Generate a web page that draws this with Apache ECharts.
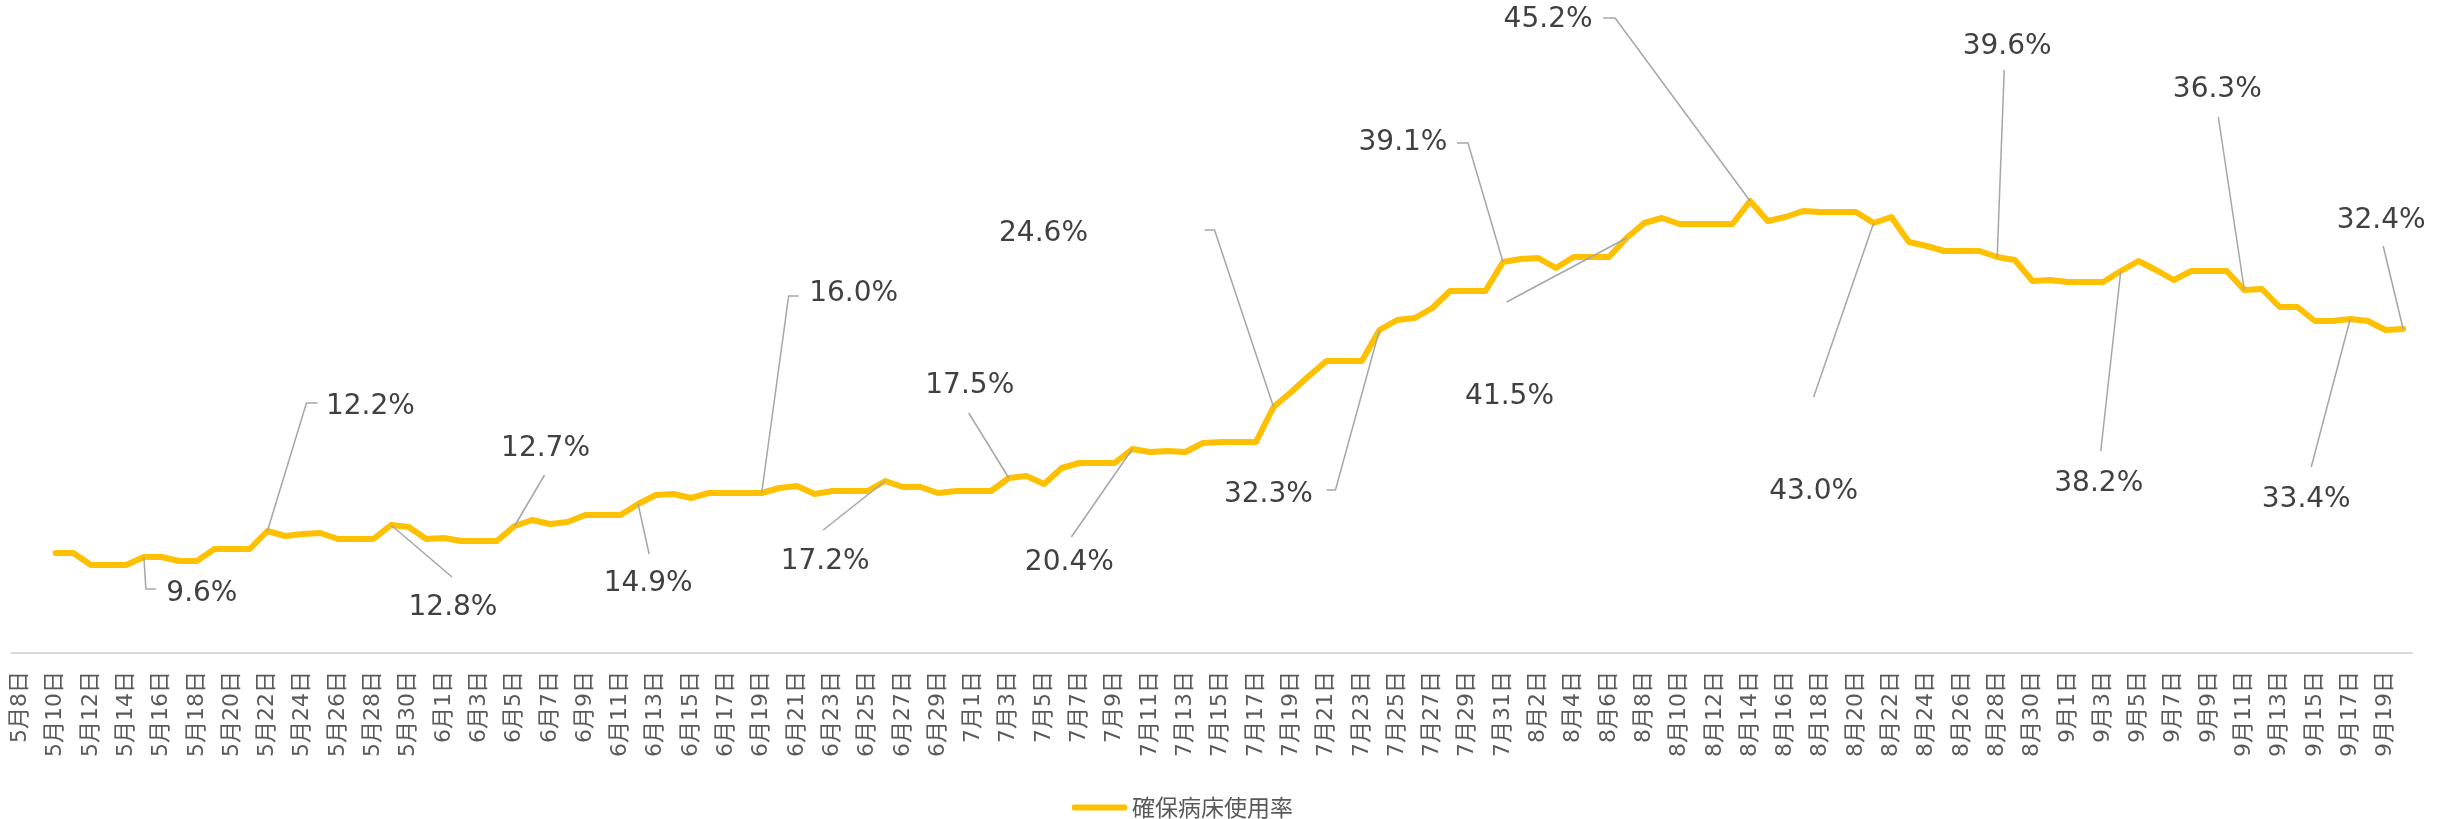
<!DOCTYPE html>
<html>
<head>
<meta charset="utf-8">
<script src="https://cdn.jsdelivr.net/npm/echarts@6/dist/echarts.min.js"></script>
<style>
html,body{margin:0;padding:0;background:#fff;}
#chart{width:2440px;height:819px;}
</style>
</head>
<body>
<div id="chart"></div>
<script>
// ---- data ----
const categories = [
 '5月8日','5月9日','5月10日','5月11日','5月12日','5月13日','5月14日','5月15日','5月16日','5月17日','5月18日','5月19日','5月20日','5月21日','5月22日','5月23日','5月24日','5月25日','5月26日','5月27日','5月28日','5月29日','5月30日','5月31日',
 '6月1日','6月2日','6月3日','6月4日','6月5日','6月6日','6月7日','6月8日','6月9日','6月10日','6月11日','6月12日','6月13日','6月14日','6月15日','6月16日','6月17日','6月18日','6月19日','6月20日','6月21日','6月22日','6月23日','6月24日','6月25日','6月26日','6月27日','6月28日','6月29日','6月30日',
 '7月1日','7月2日','7月3日','7月4日','7月5日','7月6日','7月7日','7月8日','7月9日','7月10日','7月11日','7月12日','7月13日','7月14日','7月15日','7月16日','7月17日','7月18日','7月19日','7月20日','7月21日','7月22日','7月23日','7月24日','7月25日','7月26日','7月27日','7月28日','7月29日','7月30日','7月31日',
 '8月1日','8月2日','8月3日','8月4日','8月5日','8月6日','8月7日','8月8日','8月9日','8月10日','8月11日','8月12日','8月13日','8月14日','8月15日','8月16日','8月17日','8月18日','8月19日','8月20日','8月21日','8月22日','8月23日','8月24日','8月25日','8月26日','8月27日','8月28日','8月29日','8月30日','8月31日',
 '9月1日','9月2日','9月3日','9月4日','9月5日','9月6日','9月7日','9月8日','9月9日','9月10日','9月11日','9月12日','9月13日','9月14日','9月15日','9月16日','9月17日','9月18日','9月19日','9月20日'
];
const seriesName = '確保病床使用率';
// 5/8, 5/9: no data
const mayValues = [null, null, 10.0, 10.0, 8.8, 8.8, 8.8, 9.6, 9.6, 9.2, 9.2, 10.4, 10.4, 10.4, 12.2, 11.7, 11.9, 12.0, 11.4, 11.4, 11.4, 12.8, 12.6, 11.4];
const junValues = [11.5, 11.2, 11.2, 11.2, 12.7, 13.3, 12.9, 13.1, 13.8, 13.8, 13.8, 14.9, 15.8, 15.9, 15.5, 16.0, 16.0, 16.0, 16.0, 16.5, 16.7, 15.9, 16.2, 16.2, 16.2, 17.2, 16.6, 16.6, 16.0, 16.2];
const julValues = [16.2, 16.2, 17.5, 17.7, 16.9, 18.5, 19.0, 19.0, 19.0, 20.4, 20.1, 20.2, 20.1, 21.0, 21.1, 21.1, 21.1, 24.6, 26.1, 27.7, 29.2, 29.2, 29.2, 32.3, 33.3, 33.5, 34.5, 36.2, 36.2, 36.2, 39.1];
const augValues = [39.4, 39.5, 38.5, 39.6, 39.6, 39.6, 41.5, 43.0, 43.5, 42.9, 42.9, 42.9, 42.9, 45.2, 43.2, 43.6, 44.2, 44.1, 44.1, 44.1, 43.0, 43.6, 41.1, 40.7, 40.2, 40.2, 40.2, 39.6, 39.3, 37.2, 37.3];
const sepValues = [37.1, 37.1, 37.1, 38.2, 39.2, 38.3, 37.3, 38.2, 38.2, 38.2, 36.3, 36.4, 34.6, 34.6, 33.2, 33.2, 33.4, 33.2, 32.3, 32.4];
const values = [].concat(mayValues, junValues, julValues, augValues, sepValues);

// dates that carry a data label
const labelDates = ['5月15日','5月22日','5月29日','6月5日','6月12日','6月19日','6月26日','7月3日','7月10日','7月18日','7月24日','7月31日','8月7日','8月14日','8月21日','8月28日','9月4日','9月11日','9月17日','9月20日'];

// ---- label placement (pixel offsets of label text centre from its point) ----
const labelOffsets = {
 '5月15日':[58,37], '5月22日':[103,-124], '5月29日':[62,83], '6月5日':[31,-77],
 '6月12日':[10,80], '6月19日':[92,-199], '6月26日':[-60,81], '7月3日':[-39,-92],
 '7月10日':[-63,114], '7月18日':[-230,-173], '7月24日':[-111,165], '7月31日':[-100,-119],
 '8月7日':[-117,159], '8月14日':[-202,-181], '8月21日':[-60,269], '8月28日':[10,-210],
 '9月4日':[-22,213], '9月11日':[-27,-200], '9月17日':[-44,181], '9月20日':[-22,-108]
};
// ---- leader line shapes (pixel offsets of bends from the labelled point) ----
const leaderShapes = {
 '5月15日':[[0,0],[2,32],[12,32]], '5月22日':[[0,0],[39,-128],[50,-128]],
 '5月29日':[[0,0],[61,52]], '6月5日':[[0,0],[30,-51]], '6月12日':[[0,0],[11,50]],
 '6月19日':[[0,0],[27,-197],[37,-197]], '6月26日':[[0,0],[-62,49]],
 '7月3日':[[0,0],[-40,-65]], '7月10日':[[0,0],[-61,88]],
 '7月18日':[[0,0],[-59,-177],[-69,-177]], '7月24日':[[0,0],[-44,160],[-53,160]],
 '7月31日':[[0,0],[-35,-119],[-46,-119]], '8月7日':[[0,0],[-120,64]],
 '8月14日':[[0,0],[-135,-183],[-147,-183]], '8月21日':[[0,0],[-60,174]],
 '8月28日':[[0,0],[7,-187]], '9月4日':[[0,0],[-20,180]], '9月11日':[[0,0],[-26,-173]],
 '9月17日':[[0,0],[-39,148]], '9月20日':[[0,0],[-20,-83]]
};

const seriesData = values.map((v, i) => {
  if (labelDates.indexOf(categories[i]) >= 0) {
    return { value: v, label: { show: true } };
  }
  return v;
});
const leaderData = labelDates.map(d => {
  const idx = categories.indexOf(d);
  return [idx, values[idx]];
});

const labelFont = '"DejaVu Sans", sans-serif';
const chart = echarts.init(document.getElementById('chart'), null, { renderer: 'canvas' });
chart.setOption({
  animation: false,
  backgroundColor: '#ffffff',
  grid: { left: 11.5, right: 28, top: 153, bottom: 166, containLabel: false, outerBoundsMode: 'none' },
  legend: {
    data: [seriesName],
    left: 1067,
    top: 791,
    icon: 'roundRect',
    itemWidth: 55,
    itemHeight: 6,
    itemGap: 10,
    textStyle: { fontSize: 23, color: '#595959', fontFamily: '"Noto Sans CJK JP", "DejaVu Sans", sans-serif' }
  },
  xAxis: {
    type: 'category',
    data: categories,
    boundaryGap: true,
    axisLine: { show: true, lineStyle: { color: '#d9d9d9', width: 2 } },
    axisTick: { show: false },
    splitLine: { show: false },
    axisLabel: {
      interval: 1,
      rotate: 90,
      margin: 18,
      fontSize: 22,
      color: '#595959',
      fontFamily: '"DejaVu Sans", "Noto Sans CJK JP", sans-serif'
    }
  },
  yAxis: {
    type: 'value',
    min: 0,
    max: 50,
    show: false,
    splitLine: { show: false }
  },
  series: [{
    name: seriesName,
    type: 'line',
    z: 2,
    data: seriesData,
    connectNulls: false,
    showSymbol: true,
    showAllSymbol: true,
    symbol: 'circle',
    symbolSize: 2,
    itemStyle: { color: '#FFC000' },
    lineStyle: { color: '#FFC000', width: 6, cap: 'round', join: 'round' },
    emphasis: { disabled: true },
    label: {
      show: false,
      position: 'inside',
      fontSize: 28,
      color: '#404040',
      fontFamily: labelFont,
      formatter: p => p.value.toFixed(1) + '%'
    },
    labelLayout: function (params) {
      const off = labelOffsets[categories[params.dataIndex]];
      if (!off) return {};
      return { dx: off[0], dy: off[1] };
    }
  }, {
    name: 'leaders',
    type: 'custom',
    z: 3,
    clip: false,
    silent: true,
    data: leaderData,
    renderItem: function (params, api) {
      const base = api.coord([api.value(0), api.value(1)]);
      const shape = leaderShapes[labelDates[params.dataIndex]];
      return {
        type: 'polyline',
        shape: { points: shape.map(r => [base[0] + r[0], base[1] + r[1]]) },
        style: { stroke: '#a6a6a6', lineWidth: 1.5, fill: null }
      };
    }
  }]
});
</script>
</body>
</html>
